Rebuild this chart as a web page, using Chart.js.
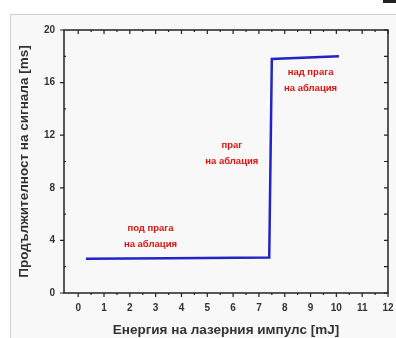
<!DOCTYPE html>
<html>
<head>
<meta charset="utf-8">
<script src="https://cdn.jsdelivr.net/npm/chart.js@4.4.1/dist/chart.umd.min.js"></script>
<style>
  html, body { margin: 0; padding: 0; background: #fff; }
  #wrap { position: relative; width: 396px; height: 338px; overflow: hidden; }
  #panel {
    position: absolute; left: 10px; top: 14px; width: 390px; height: 330px;
    background: #f8f8f8; border-top: 1px solid #d0d0d0; border-left: 1px solid #d0d0d0;
  }
  #corner { position: absolute; left: 383px; top: 0; width: 13px; height: 3px; background: #222; }
  #chart { position: absolute; left: 0; top: 0; }
</style>
</head>
<body>
<div id="wrap">
  <div id="panel"></div>
  <div id="corner"></div>
  <canvas id="chart" width="396" height="338"></canvas>
</div>
<script>
// energy [mJ] / signal duration [ms]
const energy = [0.3, 3.5, 7.4, 7.5, 10.1];
const duration = [2.6, 2.65, 2.7, 17.8, 18.0];

const xTicks = [0, 1, 2, 3, 4, 5, 6, 7, 8, 9, 10, 11, 12];
const yTicks = [0, 4, 8, 12, 16, 20];

// red labels on the plot
const noteX = [2.8, 5.95, 9.0];
const noteY = [4.95, 11.25, 16.75];
const noteText = [
  ["под прага", "на аблация"],
  ["праг", "на аблация"],
  ["над прага", "на аблация"],
];

const ctx = document.getElementById("chart").getContext("2d");

// frame + minor ticks like the original plot
const frameTicks = {
  id: "frameTicks",
  afterDatasetsDraw(chart) {
    const { ctx, chartArea: a, scales } = chart;
    const x = scales.x, y = scales.y;
    ctx.save();
    ctx.strokeStyle = "#222";
    ctx.lineWidth = 1.5;
    ctx.strokeRect(a.left, a.top, a.right - a.left, a.bottom - a.top);
    ctx.lineWidth = 1.2;
    ctx.beginPath();
    for (let v = 0; v <= 12; v += 0.5) {
      const px = x.getPixelForValue(v);
      const major = Number.isInteger(v);
      // bottom, outward
      ctx.moveTo(px, a.bottom);
      ctx.lineTo(px, a.bottom + (major ? 4 : 2));
      // top, inward
      ctx.moveTo(px, a.top);
      ctx.lineTo(px, a.top + (major ? 4 : 2));
    }
    for (let v = 0; v <= 20; v += 2) {
      const py = y.getPixelForValue(v);
      const major = v % 4 === 0;
      ctx.moveTo(a.left, py);
      ctx.lineTo(a.left - (major ? 4 : 0), py);
      if (!major) { ctx.moveTo(a.left, py); ctx.lineTo(a.left + 2, py); }
      ctx.moveTo(a.right, py);
      ctx.lineTo(a.right - 4, py);
    }
    ctx.stroke();

    ctx.fillStyle = "#e01010";
    ctx.font = "bold 9.5px 'Liberation Sans', Arial, sans-serif";
    ctx.textAlign = "center";
    ctx.textBaseline = "middle";
    noteText.forEach((lines, i) => {
      const px = x.getPixelForValue(noteX[i]);
      const py = y.getPixelForValue(noteY[i]);
      lines.forEach((t, j) => ctx.fillText(t, px, py + j * 16));
    });
    ctx.restore();
  },
};

new Chart(ctx, {
  type: "scatter",
  data: {
    datasets: [
      {
        data: energy.map((e, i) => ({ x: e, y: duration[i] })),
        showLine: true,
        borderColor: "#2323c8",
        borderWidth: 2.5,
        pointRadius: 0,
        tension: 0,
      },
    ],
  },
  options: {
    responsive: false,
    animation: false,
    layout: { padding: { left: 10, right: 8, top: 30, bottom: 0 } },
    plugins: { legend: { display: false }, tooltip: { enabled: false } },
    scales: {
      x: {
        type: "linear",
        min: -0.55,
        max: 12,
        afterBuildTicks: (s) => { s.ticks = xTicks.map((v) => ({ value: v })); },
        afterFit: (s) => { s.height = 45; s.paddingRight = 0; s.paddingLeft = 0; },
        grid: { display: false, drawTicks: false },
        border: { display: false },
        ticks: {
          padding: 9,
          color: "#333",
          font: { family: "'Liberation Sans', Arial", size: 10, weight: "bold" },
        },
        title: {
          display: true,
          text: "Енергия на лазерния импулс [mJ]",
          color: "#333",
          font: { family: "'Liberation Sans', Arial", size: 13.5, weight: "bold" },
          padding: { top: 5, bottom: 0 },
        },
      },
      y: {
        min: 0,
        max: 20,
        afterBuildTicks: (s) => { s.ticks = yTicks.map((v) => ({ value: v })); },
        afterFit: (s) => { s.width = 54; s.paddingTop = 0; s.paddingBottom = 0; },
        grid: { display: false, drawTicks: false },
        border: { display: false },
        ticks: {
          padding: 9,
          color: "#333",
          font: { family: "'Liberation Sans', Arial", size: 10, weight: "bold" },
        },
        title: {
          display: true,
          text: "Продължителност на сигнала [ms]",
          color: "#333",
          font: { family: "'Liberation Sans', Arial", size: 13.5, weight: "bold" },
          padding: { top: 6, bottom: 0 },
        },
      },
    },
  },
  plugins: [frameTicks],
});
</script>
</body>
</html>
